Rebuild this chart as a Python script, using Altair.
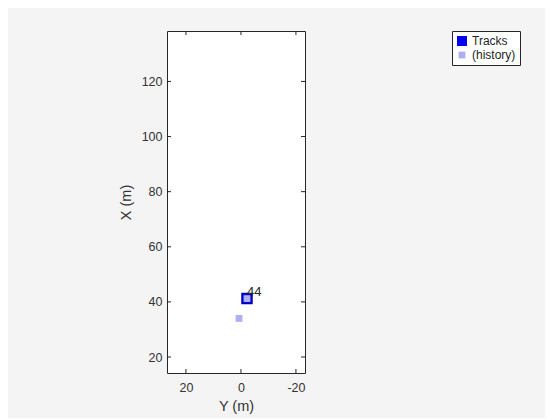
import altair as alt
import pandas as pd

# Data
track_ids = ["44"]
track_y = [-2.2]
track_x = [41.2]

hist_y = [0.7, -2.2]
hist_x = [34.0, 41.2]

y_ticks = [20, 0, -20]
x_ticks = [20, 40, 60, 80, 100, 120]

y_domain = [-23.3, 26.9]
x_domain = [14.2, 138.3]

W, H = 138, 342
FONT = "Liberation Sans"
AX = "#262626"

tracks = pd.DataFrame({"id": track_ids, "Y": track_y, "X": track_x, "kind": ["Tracks"] * len(track_ids)})
hist = pd.DataFrame({"Y": hist_y, "X": hist_x, "kind": ["(history)"] * len(hist_y)})

xs = alt.Scale(domain=y_domain, reverse=True, nice=False, zero=False)
ys = alt.Scale(domain=x_domain, nice=False, zero=False)

kinds = ["Tracks", "(history)"]
color_scale = alt.Scale(domain=kinds, range=["#0000f0", "#aeaef2"])
size_scale = alt.Scale(domain=kinds, range=[100, 46])

legend = alt.Legend(title=None, orient="none", legendX=285, legendY=0,
                    labelFont=FONT, labelFontSize=12, labelColor=AX,
                    symbolType="square", fillColor="white", strokeColor="#262626",
                    padding=4, rowPadding=2, symbolStrokeWidth=0, labelOffset=4)

base_x = alt.X("Y:Q", scale=xs, title="Y (m)",
               axis=alt.Axis(values=y_ticks, ticks=False, grid=False, domain=False,
                             labelPadding=8, titlePadding=6,
                             labelExpr="datum.value + ''"))
base_y = alt.Y("X:Q", scale=ys, title="X (m)",
               axis=alt.Axis(values=x_ticks, ticks=False, grid=False, domain=False,
                             labelPadding=5, titlePadding=8,
                             labelExpr="datum.value + ''"))

track_layer = alt.Chart(tracks).mark_point(shape="square", filled=True, opacity=1,
                                           stroke="#0000b0", strokeWidth=1.5).encode(
    x=base_x, y=base_y,
    color=alt.Color("kind:N", scale=color_scale, legend=legend),
    size=alt.Size("kind:N", scale=size_scale, legend=legend),
)

hist_layer = alt.Chart(hist).mark_point(shape="square", filled=True, opacity=1).encode(
    x=alt.X("Y:Q", scale=xs), y=alt.Y("X:Q", scale=ys),
    color=alt.Color("kind:N", scale=color_scale, legend=legend),
    size=alt.Size("kind:N", scale=size_scale, legend=legend),
)

label_layer = alt.Chart(tracks).mark_text(align="left", baseline="alphabetic", dx=0, dy=-3,
                                          font=FONT, fontSize=13, color=AX).encode(
    x=alt.X("Y:Q", scale=xs), y=alt.Y("X:Q", scale=ys), text="id:N")

yt = pd.DataFrame({"v": y_ticks})
xt = pd.DataFrame({"v": x_ticks})

tick_bottom = alt.Chart(yt).mark_rule(color=AX, strokeWidth=1).encode(
    x=alt.X("v:Q", scale=xs), y=alt.value(H - 4), y2=alt.value(H))
tick_top = alt.Chart(yt).mark_rule(color=AX, strokeWidth=1).encode(
    x=alt.X("v:Q", scale=xs), y=alt.value(0), y2=alt.value(4))
tick_left = alt.Chart(xt).mark_rule(color=AX, strokeWidth=1).encode(
    y=alt.Y("v:Q", scale=ys), x=alt.value(0), x2=alt.value(4))
tick_right = alt.Chart(xt).mark_rule(color=AX, strokeWidth=1).encode(
    y=alt.Y("v:Q", scale=ys), x=alt.value(W - 4), x2=alt.value(W))

chart = alt.layer(
    tick_bottom, tick_top, tick_left, tick_right, track_layer, hist_layer, label_layer
).resolve_scale(color="shared", size="shared").properties(
    width=W, height=H,
    autosize="none",
    padding={"left": 159, "top": 23, "right": 240, "bottom": 45},
    background="#f4f4f4",
).configure_view(
    fill="white", stroke="#262626", strokeWidth=1
).configure_axis(
    labelFont=FONT, labelFontSize=12.5, labelColor="#333333",
    titleFont=FONT, titleFontSize=14.5, titleColor="#333333", titleFontWeight="normal",
)

chart.save("out.html", embed_options={"renderer": "svg", "actions": False})
